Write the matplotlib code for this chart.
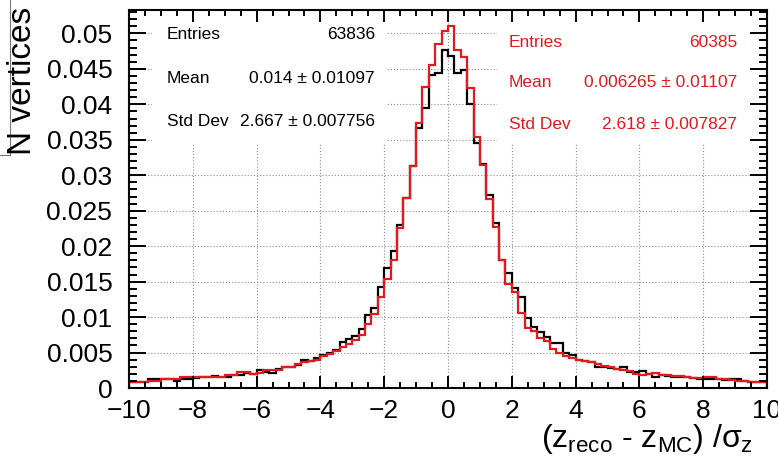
import numpy as np
import matplotlib.pyplot as plt
from matplotlib.ticker import MultipleLocator, FuncFormatter
from matplotlib.patches import Rectangle
from matplotlib.lines import Line2D

plt.rcParams['font.family'] = ['Liberation Sans', 'DejaVu Sans']
plt.rcParams['mathtext.fontset'] = 'custom'
plt.rcParams['mathtext.rm'] = 'Liberation Sans'
plt.rcParams['mathtext.it'] = 'Liberation Sans'
plt.rcParams['mathtext.bf'] = 'Liberation Sans:bold'

# histogram binning: 100 bins over [-10, 10]
x_min, x_max, n_bins = -10.0, 10.0, 100

# normalised pull distributions (bin contents, left to right)
black_counts = [
    0.0009, 0.0009, 0.0009, 0.0012, 0.0013, 0.0012, 0.0012, 0.0010, 0.0013, 0.0013,
    0.0014, 0.0015, 0.0015, 0.0017, 0.0016, 0.0016, 0.0019, 0.0019, 0.0021, 0.0020,
    0.0025, 0.0023, 0.0021, 0.0027, 0.0030, 0.0030, 0.0033, 0.0039, 0.0038, 0.0042,
    0.0046, 0.0049, 0.0053, 0.0065, 0.0069, 0.0073, 0.0083, 0.0103, 0.0113, 0.0143,
    0.0169, 0.0193, 0.0230, 0.0268, 0.0313, 0.0367, 0.0395, 0.0442, 0.0444, 0.0477,
    0.0468, 0.0444, 0.0449, 0.0400, 0.0345, 0.0316, 0.0272, 0.0232, 0.0180, 0.0162,
    0.0141, 0.0128, 0.0098, 0.0086, 0.0079, 0.0072, 0.0063, 0.0063, 0.0050, 0.0047,
    0.0040, 0.0038, 0.0036, 0.0030, 0.0030, 0.0028, 0.0027, 0.0030, 0.0023, 0.0022,
    0.0024, 0.0020, 0.0016, 0.0018, 0.0017, 0.0016, 0.0016, 0.0015, 0.0014, 0.0013,
    0.0013, 0.0013, 0.0012, 0.0011, 0.0012, 0.0012, 0.0010, 0.0009, 0.0009, 0.0008,
]
red_counts = [
    0.0008, 0.0008, 0.0008, 0.0010, 0.0010, 0.0012, 0.0012, 0.0013, 0.0015, 0.0015,
    0.0015, 0.0016, 0.0016, 0.0016, 0.0016, 0.0019, 0.0018, 0.0023, 0.0023, 0.0020,
    0.0021, 0.0026, 0.0025, 0.0026, 0.0030, 0.0030, 0.0034, 0.0036, 0.0038, 0.0040,
    0.0045, 0.0048, 0.0052, 0.0058, 0.0062, 0.0068, 0.0075, 0.0090, 0.0105, 0.0128,
    0.0153, 0.0180, 0.0225, 0.0268, 0.0313, 0.0373, 0.0424, 0.0456, 0.0485, 0.0504,
    0.0510, 0.0476, 0.0467, 0.0423, 0.0354, 0.0314, 0.0267, 0.0227, 0.0180, 0.0146,
    0.0136, 0.0106, 0.0084, 0.0080, 0.0071, 0.0066, 0.0055, 0.0050, 0.0045, 0.0042,
    0.0040, 0.0038, 0.0036, 0.0034, 0.0031, 0.0029, 0.0027, 0.0026, 0.0024, 0.0020,
    0.0019, 0.0020, 0.0021, 0.0019, 0.0018, 0.0017, 0.0017, 0.0016, 0.0014, 0.0014,
    0.0015, 0.0015, 0.0013, 0.0012, 0.0011, 0.0010, 0.0010, 0.0009, 0.0009, 0.0008,
]

# statistics boxes
stat_names = ['Entries', 'Mean', 'Std Dev']
black_stats = ['63836', '0.014 \u00b1 0.01097', '2.667 \u00b1 0.007756']
red_stats = ['60385', '0.006265 \u00b1 0.01107', '2.618 \u00b1 0.007827']

RED = '#e3191c'
W, H = 778, 466

edges = np.linspace(x_min, x_max, n_bins + 1)

fig = plt.figure(figsize=(W / 100, H / 100), dpi=100)
pos = [129 / W, 78 / H, 638 / W, 378 / H]
ax = fig.add_axes(pos)

ax.stairs(black_counts, edges, color='black', lw=1.6, zorder=2)
ax.stairs(red_counts, edges, color=RED, lw=1.6, zorder=2.1)

ax.set_xlim(x_min, x_max)
ax.set_ylim(0, 0.0533)
ax.xaxis.set_major_locator(MultipleLocator(2))
ax.xaxis.set_minor_locator(MultipleLocator(0.5))
ax.yaxis.set_major_locator(MultipleLocator(0.005))
ax.yaxis.set_minor_locator(MultipleLocator(0.001))
ax.yaxis.set_major_formatter(FuncFormatter(lambda v, p: '{:g}'.format(round(v, 6))))
ax.xaxis.set_major_formatter(FuncFormatter(lambda v, p: '{:g}'.format(v).replace('-', '\u2212')))
ax.grid(True, which='major', color='#8c8c8c', lw=0.8, ls=(0, (1, 1.8)))
ax.tick_params(which='both', length=0, labelsize=19)
ax.tick_params(axis='y', pad=12)
ax.tick_params(axis='x', pad=8)
for s in ax.spines.values():
    s.set_visible(False)

# white stat boxes hide the grid underneath
ax.add_patch(Rectangle((0.036, 0.648), 0.367, 0.36, transform=ax.transAxes,
                       facecolor='white', edgecolor='none', zorder=1.8))
ax.add_patch(Rectangle((0.577, 0.648), 0.43, 0.36, transform=ax.transAxes,
                       facecolor='white', edgecolor='none', zorder=1.8))

rows_left = [0.934, 0.820, 0.704]
rows_right = [0.915, 0.807, 0.696]
for name, val, y in zip(stat_names, black_stats, rows_left):
    ax.text(0.0596, y, name, transform=ax.transAxes, ha='left', va='center',
            fontsize=12.5, color='black', zorder=3)
    ax.text(0.3856, y, val, transform=ax.transAxes, ha='right', va='center',
            fontsize=12.5, color='black', zorder=3)
for name, val, y in zip(stat_names, red_stats, rows_right):
    ax.text(0.5956, y, name, transform=ax.transAxes, ha='left', va='center',
            fontsize=12.5, color=RED, zorder=3)
    ax.text(0.953, y, val, transform=ax.transAxes, ha='right', va='center',
            fontsize=12.5, color=RED, zorder=3)

# frame and inward ticks on all four sides, drawn above the boxes
axt = fig.add_axes(pos, sharex=ax, sharey=ax)
axt.patch.set_visible(False)
axt.tick_params(which='both', direction='in', top=True, right=True,
                labelbottom=False, labelleft=False, width=1.4, color='black')
axt.tick_params(axis='x', which='major', length=8.6)
axt.tick_params(axis='x', which='minor', length=4.5)
axt.tick_params(axis='y', which='major', length=12)
axt.tick_params(axis='y', which='minor', length=6)
for s in axt.spines.values():
    s.set_linewidth(1.5)

fig.text(23 / W, 1 - 7 / H, 'N vertices', rotation=90, ha='center', va='top',
         fontsize=24)
fig.text(753 / W, 1 - 447 / H,
         r'$(\mathrm{z}_{\mathrm{reco}}$ - $\mathrm{z}_{\mathrm{MC}})$ /$\sigma_{\mathrm{z}}$',
         ha='right', va='baseline', fontsize=23)

# thin panel border at the top-left corner
fig.add_artist(Line2D([10 / W, 10 / W], [1, 1 - 155 / H], color='#777777', lw=0.8))
fig.add_artist(Line2D([0, 10 / W], [1 - 155 / H, 1 - 155 / H], color='#777777', lw=0.8))

fig.savefig('out.png', dpi=100)
